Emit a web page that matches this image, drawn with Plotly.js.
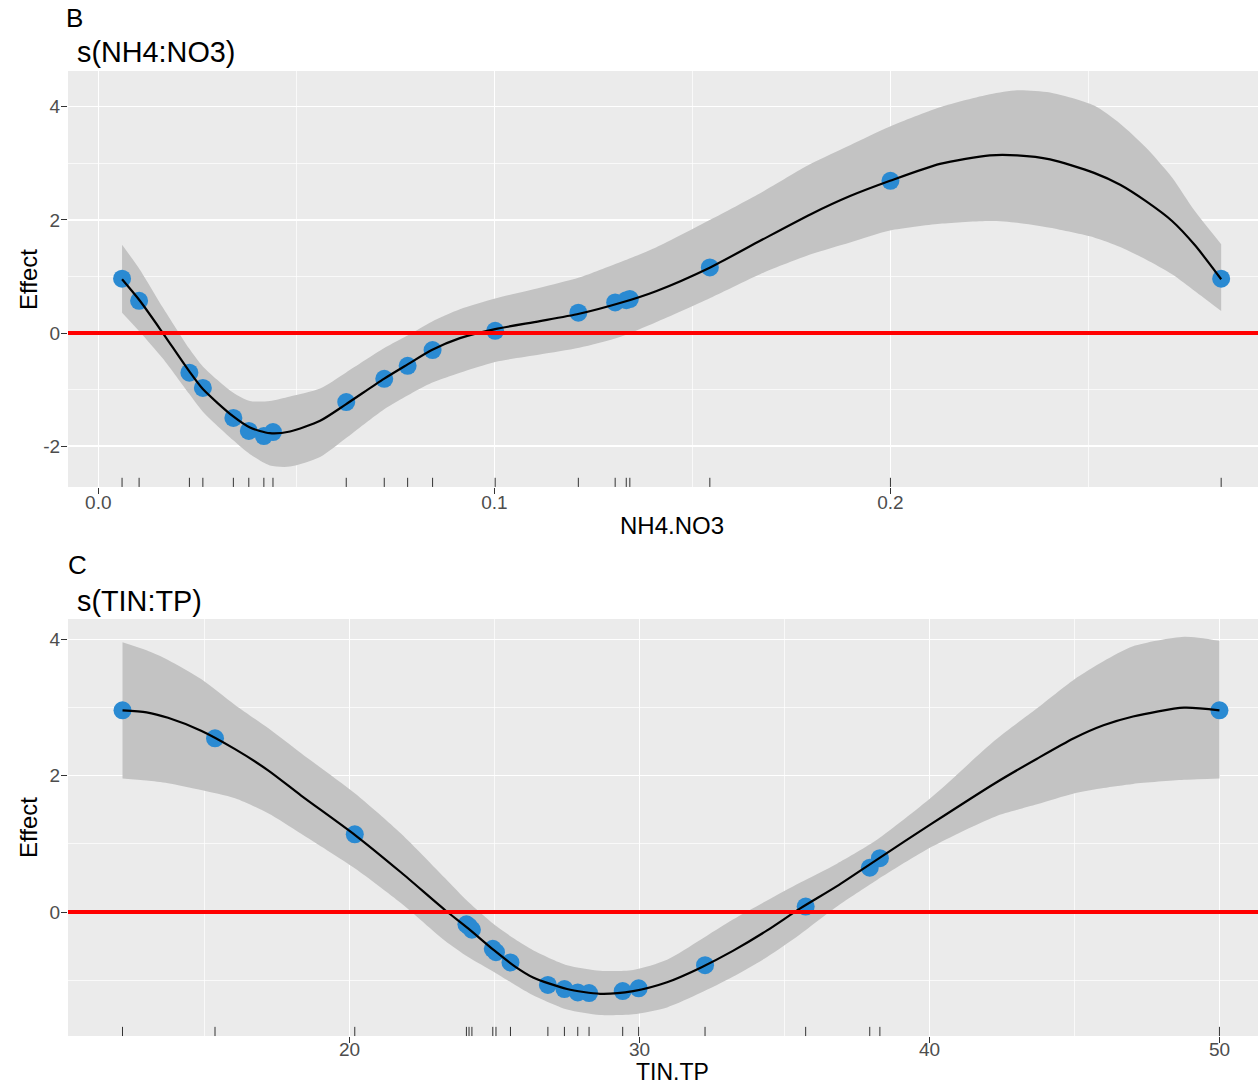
<!DOCTYPE html>
<html>
<head>
<meta charset="utf-8">
<script src="https://cdn.plot.ly/plotly-3.0.1.min.js"></script>
<style>
  html, body { margin: 0; padding: 0; background: #ffffff; }
  #chart { width: 1258px; height: 1086px; }
</style>
</head>
<body>
<div id="chart"></div>
<script>
// ---------- Panel B : s(NH4:NO3) ----------
const nh4_curve_x = [0.0060, 0.0105, 0.0163, 0.0229, 0.0264, 0.0340, 0.0383, 0.0433, 0.0484, 0.0560, 0.0625, 0.0721, 0.0782, 0.0842, 0.0913, 0.1002, 0.1115, 0.1214, 0.1317, 0.1408, 0.1545, 0.1671, 0.1799, 0.1898, 0.1999, 0.2125, 0.2251, 0.2320, 0.2403, 0.2514, 0.2580, 0.2645, 0.2711, 0.2769, 0.2835];
const nh4_fit   = [0.95, 0.57, 0.00, -0.67, -0.99, -1.47, -1.67, -1.77, -1.74, -1.55, -1.26, -0.81, -0.55, -0.30, -0.09, 0.07, 0.21, 0.34, 0.53, 0.74, 1.16, 1.63, 2.10, 2.42, 2.69, 2.99, 3.14, 3.14, 3.07, 2.83, 2.62, 2.33, 1.98, 1.55, 0.95];
const nh4_upper = [1.56, 1.12, 0.45, -0.27, -0.59, -1.05, -1.20, -1.20, -1.12, -0.98, -0.70, -0.27, -0.04, 0.20, 0.42, 0.61, 0.80, 0.98, 1.25, 1.51, 2.00, 2.47, 2.99, 3.32, 3.65, 3.99, 4.22, 4.29, 4.25, 4.02, 3.70, 3.28, 2.75, 2.15, 1.57];
const nh4_lower = [0.36, 0.02, -0.45, -1.07, -1.39, -1.89, -2.14, -2.34, -2.36, -2.19, -1.86, -1.35, -1.10, -0.88, -0.70, -0.51, -0.38, -0.26, -0.07, 0.19, 0.62, 1.04, 1.39, 1.60, 1.81, 1.93, 1.98, 1.95, 1.86, 1.69, 1.52, 1.30, 1.04, 0.74, 0.39];
const nh4_pts_x = [0.0060, 0.0103, 0.0230, 0.0264, 0.0341, 0.0380, 0.0418, 0.0441, 0.0626, 0.0722, 0.0781, 0.0844, 0.1002, 0.1212, 0.1305, 0.1333, 0.1342, 0.1544, 0.2000, 0.2835];
const nh4_pts_y = [0.96, 0.57, -0.70, -0.97, -1.50, -1.73, -1.82, -1.75, -1.22, -0.81, -0.58, -0.30, 0.04, 0.36, 0.54, 0.58, 0.60, 1.16, 2.69, 0.96];
const nh4_xticks = [0.0, 0.1, 0.2];
const nh4_xticklabels = ["0.0", "0.1", "0.2"];
const nh4_yticks = [-2, 0, 2, 4];
const nh4_yticklabels = ["-2", "0", "2", "4"];

// ---------- Panel C : s(TIN:TP) ----------
const tin_curve_x = [12.17, 13.00, 13.74, 14.88, 16.05, 17.19, 18.33, 20.19, 21.78, 23.29, 24.09, 24.98, 25.71, 26.33, 27.50, 28.64, 29.78, 30.95, 32.09, 33.22, 34.40, 35.53, 36.81, 38.19, 40.09, 42.26, 43.71, 44.98, 46.00, 47.02, 48.78, 50.0];
const tin_fit   = [2.96, 2.93, 2.85, 2.66, 2.39, 2.08, 1.71, 1.13, 0.58, 0.03, -0.24, -0.56, -0.80, -0.96, -1.13, -1.20, -1.16, -1.03, -0.82, -0.57, -0.27, 0.05, 0.38, 0.77, 1.30, 1.89, 2.25, 2.55, 2.74, 2.87, 3.00, 2.96];
const tin_upper = [3.96, 3.84, 3.70, 3.42, 3.04, 2.70, 2.33, 1.74, 1.15, 0.50, 0.15, -0.18, -0.40, -0.56, -0.78, -0.86, -0.85, -0.70, -0.41, -0.11, 0.17, 0.43, 0.71, 1.06, 1.69, 2.52, 2.99, 3.41, 3.68, 3.90, 4.04, 3.98];
const tin_lower = [1.96, 1.93, 1.89, 1.79, 1.67, 1.45, 1.15, 0.64, 0.13, -0.42, -0.66, -0.88, -1.07, -1.22, -1.43, -1.51, -1.50, -1.40, -1.19, -0.95, -0.66, -0.33, 0.08, 0.47, 0.96, 1.40, 1.58, 1.74, 1.82, 1.88, 1.94, 1.96];
const tin_pts_x = [12.17, 15.36, 20.18, 24.03, 24.12, 24.22, 24.94, 25.05, 25.55, 26.84, 27.41, 27.87, 28.26, 29.42, 29.97, 32.26, 35.73, 37.94, 38.29, 50.0];
const tin_pts_y = [2.96, 2.55, 1.14, -0.18, -0.21, -0.26, -0.54, -0.59, -0.74, -1.07, -1.13, -1.18, -1.19, -1.16, -1.12, -0.78, 0.08, 0.65, 0.79, 2.96];
const tin_xticks = [20, 30, 40, 50];
const tin_xticklabels = ["20", "30", "40", "50"];
const tin_yticks = [0, 2, 4];
const tin_yticklabels = ["0", "2", "4"];

// ---------- labels ----------
const panelLabels = ["B", "C"];
const panelTitles = ["s(NH4:NO3)", "s(TIN:TP)"];
const xTitles = ["NH4.NO3", "TIN.TP"];
const yTitle = "Effect";
const refLine = 0;

// ---------- styles ----------
const FONT = "Liberation Sans, Arial, Helvetica, sans-serif";
const BAND = "#C3C3C3";
const PT = "#2A8AD2";
const BG = "#EBEBEB";
const SMOOTH = 0.7;

function panelTraces(cx, fit, up, lo, px, py, xa, ya) {
  return [
    { x: cx, y: up, xaxis: xa, yaxis: ya, type: "scatter", mode: "lines",
      line: { width: 0, color: BAND, shape: "spline", smoothing: SMOOTH },
      hoverinfo: "skip", showlegend: false },
    { x: cx, y: lo, xaxis: xa, yaxis: ya, type: "scatter", mode: "lines",
      fill: "tonexty", fillcolor: BAND,
      line: { width: 0, color: BAND, shape: "spline", smoothing: SMOOTH },
      hoverinfo: "skip", showlegend: false },
    { x: px, y: py, xaxis: xa, yaxis: ya, type: "scatter", mode: "markers",
      marker: { color: PT, size: 18, line: { width: 0 } }, showlegend: false },
    { x: cx, y: fit, xaxis: xa, yaxis: ya, type: "scatter", mode: "lines",
      line: { color: "#000000", width: 2.2, shape: "spline", smoothing: SMOOTH }, showlegend: false }
  ];
}

const traces = [].concat(
  panelTraces(nh4_curve_x, nh4_fit, nh4_upper, nh4_lower, nh4_pts_x, nh4_pts_y, "x", "y"),
  panelTraces(tin_curve_x, tin_fit, tin_upper, tin_lower, tin_pts_x, tin_pts_y, "x2", "y2")
);

function rugShapes(xs, xref, yref) {
  return xs.map(v => ({ type: "line", xref: xref, yref: yref + " domain",
    x0: v, x1: v, y0: 0, y1: 0.022, line: { color: "#333333", width: 1 }, layer: "above" }));
}
const shapes = [].concat(
  rugShapes(nh4_pts_x, "x", "y"),
  rugShapes(tin_pts_x, "x2", "y2"),
  [
    { type: "line", xref: "x domain", yref: "y", x0: 0, x1: 1, y0: refLine, y1: refLine,
      line: { color: "#FF0000", width: 4 }, layer: "above" },
    { type: "line", xref: "x2 domain", yref: "y2", x0: 0, x1: 1, y0: refLine, y1: refLine,
      line: { color: "#FF0000", width: 4 }, layer: "above" }
  ]
);

function xAxis(range, tickvals, ticktext, minorDtick, anchor, standoff) {
  return {
    domain: [0, 1], anchor: anchor, range: range,
    tickmode: "array", tickvals: tickvals, ticktext: ticktext,
    ticks: "outside", ticklen: 6, tickwidth: 1, tickcolor: "#333333", ticklabelstandoff: standoff,
    showgrid: true, gridcolor: "#FFFFFF", gridwidth: 1.5,
    minor: { tick0: 0, dtick: minorDtick, showgrid: true, gridcolor: "#FFFFFF", gridwidth: 0.7, ticks: "" },
    zeroline: false, showline: false,
    tickfont: { family: FONT, size: 19, color: "#4D4D4D" }
  };
}
function yAxis(domain, range, tickvals, ticktext, anchor) {
  return {
    domain: domain, anchor: anchor, range: range,
    tickmode: "array", tickvals: tickvals, ticktext: ticktext,
    ticks: "outside", ticklen: 6, tickwidth: 1, tickcolor: "#333333", ticklabelstandoff: -3,
    showgrid: true, gridcolor: "#FFFFFF", gridwidth: 1.5,
    minor: { tick0: 0, dtick: 1, showgrid: true, gridcolor: "#FFFFFF", gridwidth: 0.7, ticks: "" },
    zeroline: false, showline: false,
    tickfont: { family: FONT, size: 19, color: "#4D4D4D" }
  };
}

const annFont = (s) => ({ family: FONT, size: s, color: "#000000" });
const ann = (text, x, y, xanchor, size, angle) => ({
  text: text, xref: "paper", yref: "paper", x: x, y: y, xanchor: xanchor, yanchor: "middle",
  showarrow: false, font: annFont(size), textangle: angle || 0
});
const annotations = [
  ann(panelLabels[0], -0.003, 0.9835, "left", 26),
  ann(panelTitles[0], 0.006, 0.952, "left", 28.8),
  ann(panelLabels[1], -0.002, 0.4797, "left", 26),
  ann(panelTitles[1], 0.006, 0.4465, "left", 28.8),
  ann(xTitles[0], 0.5076, 0.5157, "center", 24),
  ann(xTitles[1], 0.5084, 0.0129, "center", 23),
  ann(yTitle, -0.0328, 0.7431, "center", 24, -90),
  ann(yTitle, -0.0328, 0.2385, "center", 24, -90)
];

const layout = {
  width: 1258, height: 1086,
  margin: { l: 68, r: 0, t: 0, b: 0, pad: 0 },
  paper_bgcolor: "#FFFFFF", plot_bgcolor: BG,
  font: { family: FONT },
  showlegend: false,
  xaxis: xAxis([-0.00765, 0.2928], nh4_xticks, nh4_xticklabels, 0.05, "y", -8),
  yaxis: yAxis([0.5516, 0.9346], [-2.72, 4.63], nh4_yticks, nh4_yticklabels, "x"),
  xaxis2: xAxis([10.29, 51.33], tin_xticks, tin_xticklabels, 5, "y2", -10),
  yaxis2: yAxis([0.046, 0.430], [-1.82, 4.30], tin_yticks, tin_yticklabels, "x2"),
  shapes: shapes,
  annotations: annotations
};

Plotly.newPlot("chart", traces, layout, { displayModeBar: false, staticPlot: true });
</script>
</body>
</html>
